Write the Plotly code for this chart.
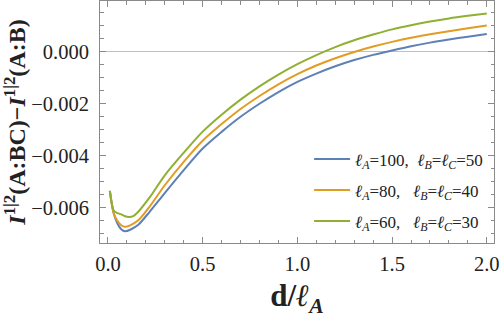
import plotly.graph_objects as go

x_blue = [0.01, 0.03, 0.05, 0.07, 0.09, 0.12, 0.16, 0.22, 0.3, 0.4, 0.5, 0.6, 0.7, 0.8, 0.9,
          1.0, 1.1, 1.2, 1.3, 1.4, 1.5, 1.6, 1.7, 1.8, 1.9, 2.0]
y_blue = [-0.00535, -0.0062, -0.0066, -0.00682, -0.0069, -0.00683, -0.00665, -0.00615, -0.00543,
          -0.00455, -0.00372, -0.00308, -0.0025, -0.002, -0.00155, -0.00116, -0.00084, -0.00056,
          -0.00032, -0.00012, 0.00005, 0.00021, 0.00035, 0.00047, 0.00058, 0.00068]

x_orange = x_blue
y_orange = [-0.00535, -0.0062, -0.0065, -0.00667, -0.00673, -0.00666, -0.00648, -0.00595, -0.00513,
            -0.00423, -0.00342, -0.00278, -0.0022, -0.0017, -0.00125, -0.00086, -0.00053, -0.00025,
            -0.00001, 0.0002, 0.00038, 0.00054, 0.00067, 0.00079, 0.0009, 0.00101]

x_green = [0.01, 0.03, 0.05, 0.07, 0.09, 0.11, 0.13, 0.16, 0.22, 0.3, 0.4, 0.5, 0.6, 0.7, 0.8, 0.9,
           1.0, 1.1, 1.2, 1.3, 1.4, 1.5, 1.6, 1.7, 1.8, 1.9, 2.0]
y_green = [-0.00535, -0.0061, -0.0062, -0.00625, -0.00632, -0.00635, -0.00633, -0.00615, -0.0056,
           -0.00475, -0.00388, -0.00307, -0.00242, -0.00184, -0.00133, -0.00088, -0.00048, -0.00013,
           0.00018, 0.00044, 0.00066, 0.00086, 0.00102, 0.00116, 0.00128, 0.00138, 0.00147]

names = [
    "<i>ℓ</i><sub><i>A</i></sub>=100,  <i>ℓ</i><sub><i>B</i></sub>=<i>ℓ</i><sub><i>C</i></sub>=50",
    "<i>ℓ</i><sub><i>A</i></sub>=80,   <i>ℓ</i><sub><i>B</i></sub>=<i>ℓ</i><sub><i>C</i></sub>=40",
    "<i>ℓ</i><sub><i>A</i></sub>=60,   <i>ℓ</i><sub><i>B</i></sub>=<i>ℓ</i><sub><i>C</i></sub>=30",
]
colors = ["#5E81B5", "#E19C24", "#8FB032"]

x_ticks = [0.0, 0.5, 1.0, 1.5, 2.0]
x_ticktext = ["0.0", "0.5", "1.0", "1.5", "2.0"]
y_ticks = [-0.006, -0.004, -0.002, 0.0]
y_ticktext = ["−0.006", "−0.004", "−0.002", "0.000"]

fig = go.Figure()
for i, (xs, ys, nm, c) in enumerate(zip([x_blue, x_orange, x_green], [y_blue, y_orange, y_green], names, colors)):
    fig.add_trace(go.Scatter(x=xs, y=ys, mode="lines", name=nm, legendgroup=f"g{i}",
                             line=dict(color=c, width=2, shape="spline", smoothing=0.8)))

serif = "Liberation Serif, Times New Roman, serif"
tickfont = dict(family=serif, size=20.5, color="#222")

fig.update_xaxes(range=[-0.042, 2.038], tickvals=x_ticks, ticktext=x_ticktext,
                 showline=True, linecolor="#8a8a8a", linewidth=1, mirror="ticks",
                 ticks="inside", ticklen=6, tickcolor="#8a8a8a", showgrid=False, automargin=False,
                 tickfont=tickfont,
                 zeroline=False, ticklabelstandoff=2,
                 minor=dict(dtick=0.1, ticks="inside", ticklen=3.5, tickcolor="#8a8a8a", showgrid=False),
                 title=dict(text="<b>d/<i>ℓ</i><sub><i>A</i></sub></b>",
                            font=dict(family=serif, size=31, color="#222"), standoff=14))
fig.update_yaxes(range=[-0.00735, 0.00195], tickvals=y_ticks, ticktext=y_ticktext,
                 showline=True, linecolor="#8a8a8a", linewidth=1, mirror="ticks",
                 ticks="inside", ticklen=6, tickcolor="#8a8a8a", showgrid=False, automargin=False,
                 tickfont=tickfont,
                 zeroline=True, zerolinecolor="#c0c0c0", zerolinewidth=1, ticklabelstandoff=6,
                 minor=dict(dtick=0.0005, ticks="inside", ticklen=3.5, tickcolor="#8a8a8a", showgrid=False),
                 title=dict(text="<b><i>I</i><sup>1|2</sup>(A:BC)−<i>I</i><sup>1|2</sup>(A:B)</b>",
                            font=dict(family=serif, size=24, color="#222"), standoff=4))

fig.update_layout(
    width=500, height=318,
    margin=dict(l=100, r=6, t=1, b=75),
    paper_bgcolor="white", plot_bgcolor="white",
    font=dict(family=serif, color="#222"),
    showlegend=True,
    legend=dict(x=0.985, y=0.015, xanchor="right", yanchor="bottom",
                bgcolor="rgba(255,255,255,0)", borderwidth=0,
                font=dict(family=serif, size=17, color="#222"),
                itemwidth=36, tracegroupgap=6),
)

fig.write_html("out.html", config={"displayModeBar": False},
               post_script="document.body.style.margin='0';document.body.style.padding='0';")
